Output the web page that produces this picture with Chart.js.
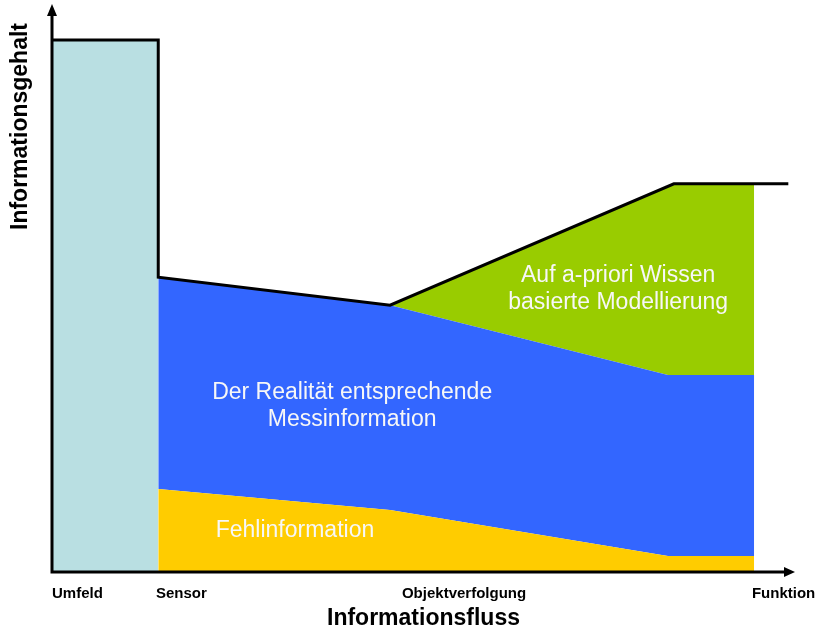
<!DOCTYPE html>
<html>
<head>
<meta charset="utf-8">
<script src="https://cdn.jsdelivr.net/npm/chart.js@4"></script>
<style>
  html, body { margin:0; padding:0; background:#fff; }
  #wrap { width:824px; height:630px; }
</style>
</head>
<body>
<div id="wrap"><canvas id="c" width="824" height="630"></canvas></div>
<script>
// === Data (x: position along the information flow, y: information content) ===
const tickVals   = [0, 14.0, 47.1, 94.2];
const tickLabels = ['Umfeld', 'Sensor', 'Objektverfolgung', 'Funktion'];

const umfeldX = [0, 14.3];
const umfeldY = [96.9, 96.9];

const stageX  = [14.3, 45.5, 82.9, 94.5];
const fehlY   = [15.1, 11.3, 2.9, 2.9];     // Fehlinformation (top edge)
const messY   = [53.7, 48.6, 35.9, 35.9];   // Messinformation (top edge)

const modellX = [45.5, 83.7, 94.5];
const modellY = [48.6, 70.7, 70.7];         // a-priori Modellierung (top edge)

const totalX  = [0, 14.3, 14.3, 45.5, 83.7, 99.1];
const totalY  = [96.9, 96.9, 53.7, 48.6, 70.7, 70.7];  // Gesamt-Informationsgehalt

// text labels inside the areas (data units)
const notes = [
  {lines:['Auf a-priori Wissen', 'basierte Modellierung'], x:76.2, y:53.9},
  {lines:['Der Realität entsprechende', 'Messinformation'],    x:40.4, y:32.6},
  {lines:['Fehlinformation'],                                  x:32.7, y:7.6},
];

const pts = (xs, ys) => xs.map((x, i) => ({x, y: ys[i]}));

// axis arrows + area labels
const decor = {
  id: 'decor',
  afterDraw(chart){
    const {ctx, chartArea: a, scales} = chart;
    ctx.save();
    ctx.strokeStyle = '#000'; ctx.fillStyle = '#000'; ctx.lineWidth = 3;
    ctx.beginPath();
    ctx.moveTo(a.left, 15); ctx.lineTo(a.left, a.bottom); ctx.lineTo(a.right - 10, a.bottom);
    ctx.stroke();
    ctx.beginPath();
    ctx.moveTo(a.left, 4); ctx.lineTo(a.left - 5, 16); ctx.lineTo(a.left + 5, 16); ctx.closePath(); ctx.fill();
    ctx.beginPath();
    ctx.moveTo(a.right, a.bottom); ctx.lineTo(a.right - 11, a.bottom - 5); ctx.lineTo(a.right - 11, a.bottom + 5); ctx.closePath(); ctx.fill();

    ctx.fillStyle = '#f7f7f7';
    ctx.font = '23px "Liberation Sans", Arial, sans-serif';
    ctx.textAlign = 'center'; ctx.textBaseline = 'middle';
    notes.forEach(n => {
      const px = scales.x.getPixelForValue(n.x);
      const py = scales.y.getPixelForValue(n.y);
      n.lines.forEach((t, i) => ctx.fillText(t, px, py + i * 27));
    });
    ctx.restore();
  }
};

const area = (data, color, fill) => ({
  data, fill, backgroundColor: color, borderWidth: 0, pointRadius: 0, tension: 0
});

new Chart(document.getElementById('c'), {
  type: 'line',
  data: {
    datasets: [
      {data: pts(totalX, totalY), borderColor:'#000', borderWidth:3, pointRadius:0, fill:false, tension:0},
      area(pts(umfeldX, umfeldY), '#b9dfe2', 'origin'),
      area(pts(stageX, fehlY),    '#ffcc00', 'origin'),
      area(pts(stageX, messY),    '#3366ff', 2),
      area(pts(modellX, modellY), '#99cc00', 3),
    ]
  },
  options: {
    responsive: false,
    animation: false,
    layout: {padding: {top: 23, right: 29, left: 0, bottom: 0}},
    plugins: {legend: {display: false}, tooltip: {enabled: false}},
    scales: {
      x: {
        type: 'linear', min: 0, max: 100,
        grid: {display: false, drawTicks: false},
        border: {display: false},
        afterBuildTicks: s => { s.ticks = tickVals.map(v => ({value: v})); },
        afterFit: s => { s.height = 58; s.paddingLeft = 0; s.paddingRight = 0; },
        ticks: {
          autoSkip: false, maxRotation: 0, align: 'start', padding: 13, color: '#000',
          font: {family: '"Liberation Sans", Arial, sans-serif', size: 15, weight: 'bold'},
          callback: (v, i) => tickLabels[i]
        },
        title: {
          display: true, text: 'Informationsfluss', color: '#000', padding: {top: 0, bottom: 0},
          font: {family: '"Liberation Sans", Arial, sans-serif', size: 23, weight: 'bold', lineHeight: 1}
        }
      },
      y: {
        type: 'linear', min: 0, max: 100,
        grid: {display: false, drawTicks: false},
        border: {display: false},
        ticks: {display: false},
        afterFit: s => { s.width = 52; s.paddingTop = 0; s.paddingBottom = 0; },
        title: {
          display: true, text: 'Informationsgehalt', align: 'end', color: '#000', padding: {top: 9, bottom: 0},
          font: {family: '"Liberation Sans", Arial, sans-serif', size: 23, weight: 'bold', lineHeight: 1}
        }
      }
    }
  },
  plugins: [decor]
});
</script>
</body>
</html>
